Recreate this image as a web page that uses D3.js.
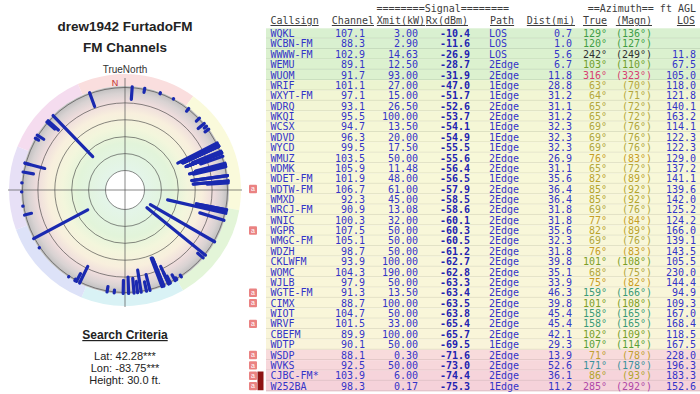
<!DOCTYPE html>
<html lang="en">
<head>
    <meta charset="UTF-8">
    <title>drew1942 FurtadoFM - FM Channels</title>
    <script src="https://cdnjs.cloudflare.com/ajax/libs/d3/7.8.5/d3.min.js"></script>
    <style>
        body { margin: 0; background: #fff; }
        svg { display: block; }
    </style>
</head>
<body>
    <div id="chart"></div>
    <script>
        // ---- table rows, strongest signal first ----
        var callsigns = ['WQKL', 'WCBN-FM', 'WWWW-FM', 'WEMU', 'WUOM', 'WRIF', 'WXYT-FM', 'WDRQ', 'WKQI', 'WCSX',
                         'WDVD', 'WYCD', 'WMUZ', 'WDMK', 'WDET-FM', 'WDTW-FM', 'WMXD', 'WRCJ-FM', 'WNIC', 'WGPR',
                         'WMGC-FM', 'WDZH', 'CKLWFM', 'WOMC', 'WJLB', 'WGTE-FM', 'CIMX', 'WIOT', 'WRVF', 'CBEFM',
                         'WDTP', 'WSDP', 'WVKS', 'CJBC-FM*', 'W252BA'];
        var channels = [107.1, 88.3, 102.9, 89.1, 91.7, 101.1, 97.1, 93.1, 95.5, 94.7,
                        96.3, 99.5, 103.5, 105.9, 101.9, 106.7, 92.3, 90.9, 100.3, 107.5,
                        105.1, 98.7, 93.9, 104.3, 97.9, 91.3, 88.7, 104.7, 101.5, 89.9,
                        90.1, 88.1, 92.5, 103.9, 98.3];
        var xmitKw = [3.00, 2.90, 14.63, 12.50, 93.00, 27.00, 15.00, 26.50, 100.00, 13.50,
                      20.00, 17.50, 50.00, 11.48, 48.00, 61.00, 45.00, 13.08, 32.00, 50.00,
                      50.00, 50.00, 100.00, 190.00, 50.00, 13.50, 100.00, 50.00, 33.00, 100.00,
                      50.00, 0.30, 50.00, 6.00, 0.17];
        var rxDbm = [-10.4, -11.6, -26.9, -28.7, -31.9, -47.0, -51.7, -52.6, -53.7, -54.1,
                     -54.9, -55.5, -55.6, -56.4, -56.5, -57.9, -58.5, -58.6, -60.1, -60.3,
                     -60.5, -61.2, -62.7, -62.8, -63.3, -63.4, -63.5, -63.8, -65.4, -65.7,
                     -69.5, -71.6, -73.0, -74.4, -75.3];
        var paths = ['LOS', 'LOS', 'LOS', '2Edge', '2Edge', '1Edge', '1Edge', '2Edge', '2Edge', '1Edge',
                     '1Edge', '1Edge', '2Edge', '2Edge', '1Edge', '2Edge', '2Edge', '2Edge', '2Edge', '2Edge',
                     '2Edge', '2Edge', '2Edge', '2Edge', '2Edge', '2Edge', '2Edge', '2Edge', '2Edge', '2Edge',
                     '1Edge', '2Edge', '2Edge', '2Edge', '1Edge'];
        var distMi = [0.7, 1.0, 5.6, 6.7, 11.8, 28.8, 31.2, 31.1, 31.2, 32.3,
                      32.3, 32.3, 26.9, 31.1, 35.6, 36.4, 36.4, 31.8, 31.8, 35.6,
                      32.3, 31.8, 39.8, 35.1, 33.9, 46.3, 39.8, 45.4, 45.4, 42.1,
                      29.3, 13.9, 52.6, 36.1, 11.2];
        var azTrue = [129, 120, 242, 103, 316, 63, 64, 65, 65, 69,
                      69, 69, 76, 65, 82, 85, 85, 69, 77, 82,
                      69, 76, 101, 68, 75, 159, 101, 158, 158, 102,
                      107, 71, 171, 86, 285];
        var azMagn = [136, 127, 249, 110, 323, 70, 71, 72, 72, 76,
                      76, 76, 83, 72, 89, 92, 92, 76, 84, 89,
                      76, 83, 108, 75, 82, 166, 108, 165, 165, 109,
                      114, 78, 178, 93, 292];
        var aglFt = [null, null, 11.8, 67.5, 105.0, 118.0, 121.8, 140.1, 163.2, 114.1,
                     122.3, 122.3, 129.0, 137.2, 141.1, 139.6, 142.0, 125.2, 124.2, 166.0,
                     139.1, 143.5, 105.5, 230.0, 144.4, 94.9, 109.3, 167.0, 168.4, 118.5,
                     167.5, 228.0, 196.3, 183.3, 152.6];
        var flagged = ['WDTW-FM', 'WGPR', 'WGTE-FM', 'CIMX', 'WRVF', 'WSDP', 'WVKS', 'CJBC-FM*', 'W252BA'];

        // ---- weaker stations only seen on the polar plot ----
        var extraAz = [4, 11, 20, 28, 38, 46, 50, 52, 54, 131,
                       155, 155, 154, 151, 150, 147, 166, 168, 173, 175,
                       178, 181, 186, 190, 206, 208, 209, 213, 236, 256,
                       261, 269, 274, 280, 285, 300, 302, 311, 312, 340];
        var extraRx = [-84.5, -94.7, -98, -98.8, -95.3, -94.3, -90, -96, -94, -91,
                       -76.7, -85, -90.5, -91.7, -97, -97, -80, -88, -86, -82,
                       -80, -84, -96, -93, -77.5, -89, -97.5, -99, -99, -91,
                       -99, -99, -99, -87, -93.5, -95, -90.3, -87, -83, -82];

        var ringTicks = [0, -20, -40, -60, -80, -100];

        var w = 700, h = 394;
        var svg = d3.select('#chart').append('svg')
                    .attr('width', w)
                    .attr('height', h)
                    .style('font-family', '"Liberation Sans", Arial, sans-serif');

        // ================= LEFT PANEL =================
        svg.append('text').attr('x', 125).attr('y', 31).attr('text-anchor', 'middle')
           .style('font-size', '13.5px').style('font-weight', 'bold').attr('fill', '#222')
           .text('drew1942 FurtadoFM');
        svg.append('text').attr('x', 125).attr('y', 52).attr('text-anchor', 'middle')
           .style('font-size', '13.5px').style('font-weight', 'bold').attr('fill', '#222')
           .text('FM Channels');

        var cx = 125, cy = 190,
            rHole = 19.5, rPlot = 104, rRing = 116;
        var rScale = d3.scaleLinear().domain([0, -100]).range([rHole, rPlot]);
        var rad = (deg) => deg * Math.PI / 180;

        var defs = svg.append('defs');
        var grad = defs.append('radialGradient')
                       .attr('id', 'bands')
                       .attr('gradientUnits', 'userSpaceOnUse')
                       .attr('cx', 0).attr('cy', 0).attr('r', rPlot);
        [[0.18, '#e4f5ea'], [0.45, '#e2f4da'], [0.6, '#f3f6dc'], [0.74, '#f8efdd'],
         [0.85, '#eedcdc'], [0.93, '#d8d2d2'], [1, '#bdbdbd']].forEach((s) => {
            grad.append('stop').attr('offset', s[0]).attr('stop-color', s[1]);
        });

        var polar = svg.append('g').attr('transform', 'translate(' + cx + ',' + cy + ')');

        // outer hue ring
        var sectors = [[-24, 36, '#fadede'], [36, 100, '#fafadb'], [100, 150, '#e3f5d8'],
                       [150, 202, '#d9f2f5'], [202, 250, '#dde2f8'], [250, 292, '#e7e0f6'],
                       [292, 336, '#f5dcef']];
        var ringArc = d3.arc().innerRadius(rPlot).outerRadius(rRing);
        polar.selectAll('path.sector')
             .data(sectors)
             .enter()
             .append('path')
             .attr('class', 'sector')
             .attr('d', (d) => ringArc({ startAngle: rad(d[0]), endAngle: rad(d[1]) }))
             .attr('fill', (d) => d[2]);

        polar.append('circle').attr('r', rPlot).attr('fill', 'url(#bands)');
        polar.append('circle').attr('r', rHole).attr('fill', '#fff');

        polar.selectAll('circle.tick')
             .data(ringTicks)
             .enter()
             .append('circle')
             .attr('class', 'tick')
             .attr('r', (d) => rScale(d) - (d === -100 ? 1.5 : 0))
             .attr('fill', 'none')
             .attr('stroke', '#3a3a3a')
             .attr('stroke-width', 0.6);

        // crosshair
        polar.append('line').attr('x1', -117).attr('x2', 117).attr('y1', 0).attr('y2', 0)
             .attr('stroke', '#555').attr('stroke-width', 0.7);
        polar.append('line').attr('x1', 0).attr('x2', 0).attr('y1', -112).attr('y2', 117)
             .attr('stroke', '#555').attr('stroke-width', 0.7);

        // station spokes
        var stations = rxDbm.map((v, i) => ({ az: azTrue[i], rx: v }))
                            .concat(extraAz.map((a, i) => ({ az: a, rx: extraRx[i] })));
        polar.selectAll('line.stn')
             .data(stations)
             .enter()
             .append('line')
             .attr('class', 'stn')
             .attr('x1', (d) => d3.pointRadial(rad(d.az), rScale(d.rx))[0])
             .attr('y1', (d) => d3.pointRadial(rad(d.az), rScale(d.rx))[1])
             .attr('x2', (d) => d3.pointRadial(rad(d.az), rPlot - 0.5)[0])
             .attr('y2', (d) => d3.pointRadial(rad(d.az), rPlot - 0.5)[1])
             .attr('stroke', '#1a29b0')
             .attr('stroke-width', 3.2)
             .attr('stroke-linecap', 'round');

        svg.append('text').attr('x', 125).attr('y', 73).attr('text-anchor', 'middle')
           .style('font-size', '10px').attr('fill', '#333').text('TrueNorth');
        svg.append('text').attr('x', 115).attr('y', 86).attr('text-anchor', 'middle')
           .style('font-size', '9px').attr('fill', '#c03030').text('N');

        // search criteria
        svg.append('text').attr('x', 125).attr('y', 339).attr('text-anchor', 'middle')
           .style('font-size', '12px').style('font-weight', 'bold')
           .style('text-decoration', 'underline').attr('fill', '#222')
           .text('Search Criteria');
        ['Lat: 42.28***', 'Lon: -83.75***', 'Height: 30.0 ft.'].forEach((t, i) => {
            svg.append('text').attr('x', 125).attr('y', 360 + i * 12).attr('text-anchor', 'middle')
               .style('font-size', '11px').attr('fill', '#222').text(t);
        });

        // ================= TABLE =================
        var mono = '"DejaVu Sans Mono", "Liberation Mono", monospace';
        var table = svg.append('g').style('font-family', mono).style('font-size', '10px');

        var rowH = 10.37, rowTop = 28.3;
        var yBand = d3.scaleBand()
                      .domain(callsigns)
                      .range([rowTop, rowTop + rowH * callsigns.length])
                      .paddingInner(0);
        var rowColor = d3.scaleLinear()
                         .domain([-10, -32, -47, -56, -69.5, -71, -76])
                         .range(['#d9f0d0', '#dcf1cf', '#ecf4d0', '#f8f8d8', '#f9f4da', '#f8dcdc', '#f5d0da']);
        var azColor = d3.scaleLinear()
                        .domain([60, 70, 72, 90, 101, 110, 130, 160, 175, 242, 285, 316, 360])
                        .range(['#b8a838', '#b0a63c', '#d09a22', '#a8a830', '#7c9e26', '#46a040', '#3c9c48',
                                '#3a9a7a', '#3a8ea8', '#303030', '#b048a8', '#d84070', '#d84070']);

        var rows = table.selectAll('g.row')
                        .data(callsigns)
                        .enter()
                        .append('g')
                        .attr('class', 'row')
                        .attr('transform', (d) => 'translate(0,' + yBand(d) + ')');
        rows.append('rect')
            .attr('x', 266).attr('width', w - 266)
            .attr('height', yBand.bandwidth())
            .attr('fill', (d, i) => rowColor(rxDbm[i]));
        rows.append('line')
            .attr('x1', 266).attr('x2', w)
            .attr('y1', yBand.bandwidth() - 0.5).attr('y2', yBand.bandwidth() - 0.5)
            .attr('stroke', (d, i) => d3.color(rowColor(rxDbm[i])).darker(0.35))
            .attr('stroke-width', 0.8);

        var blue = '#3434c8';
        var deg = (v) => v + '\u00b0';
        var columns = [
            { x: 270.5, anchor: 'start', text: (d, i) => d, color: () => blue },
            { x: 365, anchor: 'end', text: (d, i) => channels[i].toFixed(1), color: () => blue },
            { x: 418, anchor: 'end', text: (d, i) => xmitKw[i].toFixed(2), color: () => blue },
            { x: 470, anchor: 'end', text: (d, i) => rxDbm[i].toFixed(1), color: () => '#2222b0', bold: true },
            { x: 489, anchor: 'start', text: (d, i) => paths[i], color: () => blue },
            { x: 572, anchor: 'end', text: (d, i) => distMi[i].toFixed(1), color: () => blue },
            { x: 607, anchor: 'end', text: (d, i) => deg(azTrue[i]), color: (d, i) => azColor(azTrue[i]) },
            { x: 652, anchor: 'end', text: (d, i) => '(' + deg(azMagn[i]) + ')', color: (d, i) => azColor(azTrue[i]) },
            { x: 696, anchor: 'end', text: (d, i) => aglFt[i] === null ? '' : aglFt[i].toFixed(1), color: () => blue }
        ];
        columns.forEach((c) => {
            rows.append('text')
                .attr('x', c.x)
                .attr('y', yBand.bandwidth() / 2 + 3.6)
                .attr('text-anchor', c.anchor)
                .attr('fill', c.color)
                .style('font-weight', c.bold ? 'bold' : 'normal')
                .text(c.text);
        });

        // headers
        var headColor = '#3c3c3c';
        table.append('text').attr('x', 376.5).attr('y', 11.5).attr('fill', headColor)
             .text('========Signal========');
        table.append('text').attr('x', 696).attr('y', 11.5).attr('text-anchor', 'end').attr('fill', headColor)
             .text('==Azimuth==  ft AGL');
        var heads = [['Callsign', 270.5, 'start'], ['Channel', 374, 'end'], ['Xmit(kW)', 425, 'end'],
                     ['Rx(dBm)', 468, 'end'], ['Path', 490, 'start'], ['Dist(mi)', 575, 'end'],
                     ['True', 583, 'start'], ['(Magn)', 652, 'end'], ['LOS', 695, 'end']];
        table.selectAll('text.head')
             .data(heads)
             .enter()
             .append('text')
             .attr('class', 'head')
             .attr('x', (d) => d[1])
             .attr('y', 24)
             .attr('text-anchor', (d) => d[2])
             .attr('fill', headColor)
             .style('text-decoration', 'underline')
             .text((d) => d[0]);

        // little flag icons at the left edge of some rows
        var icons = svg.selectAll('g.icon')
                       .data(flagged)
                       .enter()
                       .append('g')
                       .attr('class', 'icon')
                       .attr('transform', (d) => 'translate(249,' + (yBand(d) + 1) + ')');
        icons.append('rect').attr('width', 8).attr('height', yBand.bandwidth() - 2)
             .attr('rx', 1).attr('fill', '#ea8282');
        icons.append('text').attr('x', 4).attr('y', 6.5).attr('text-anchor', 'middle')
             .style('font-size', '7px').attr('fill', '#fff').text('a');
        svg.append('rect')
           .attr('x', 257.5).attr('y', yBand('CJBC-FM*') + 1)
           .attr('width', 6).attr('height', yBand.bandwidth() * 2 - 2)
           .attr('fill', '#8e1414');
    </script>
</body>
</html>
